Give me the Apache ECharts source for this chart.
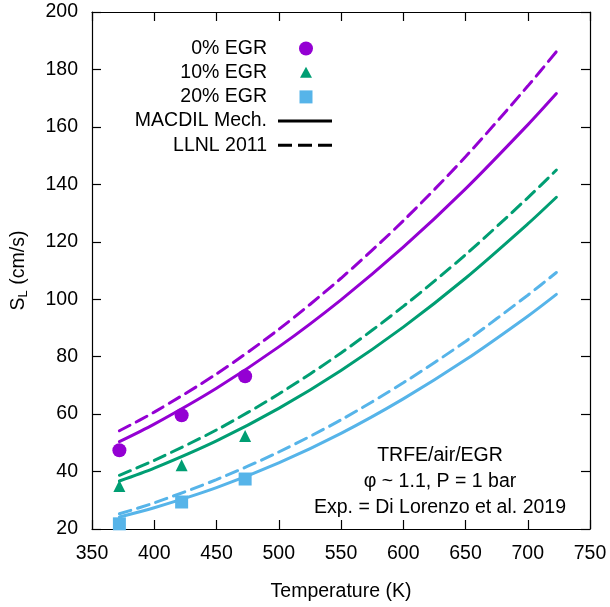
<!DOCTYPE html>
<html>
<head>
<meta charset="utf-8">
<script src="https://cdn.jsdelivr.net/npm/echarts@6/dist/echarts.min.js"></script>
<style>
  html, body { margin: 0; padding: 0; background: #fff; }
  #chart { width: 610px; height: 607px; }
</style>
</head>
<body>
<div id="chart"></div>
<script>
// Laminar burning velocity of TRFE/air/EGR mixtures vs. unburnt temperature

// Experimental data (Di Lorenzo et al. 2019)
const expTemps = [372, 422, 473];
const exp0 = [47.4, 59.6, 73.2];
const exp10 = [35.0, 42.2, 52.4];
const exp20 = [21.8, 29.4, 37.4];

// Simulated curves, temperature grid
const simTemps = [372, 400, 450, 500, 550, 600, 650, 700, 723];
// MACDIL mechanism
const macdil0 = [50.4, 56.5, 69.0, 83.4, 99.8, 118.1, 138.4, 160.7, 171.6];
const macdil10 = [36.7, 41.2, 50.7, 62.0, 75.2, 90.3, 107.3, 126.2, 135.5];
const macdil20 = [24.2, 27.4, 34.4, 43.0, 53.3, 65.3, 78.9, 94.1, 101.7];
// LLNL 2011 mechanism
const llnl0 = [54.2, 60.7, 74.0, 89.5, 107.3, 127.3, 149.6, 174.2, 186.2];
const llnl10 = [38.7, 43.9, 54.5, 67.0, 81.3, 97.5, 115.5, 135.3, 145.0];
const llnl20 = [25.3, 29.1, 37.2, 46.8, 58.0, 70.9, 85.3, 101.4, 109.3];

// Axis ticks
const xMin = 350, xMax = 750, xStep = 50;
const yMin = 20, yMax = 200, yStep = 20;

const C0 = '#9400d3', C10 = '#009e73', C20 = '#56b4e9';
const FONT = 'Liberation Sans, Arial, sans-serif';
const FS = 19.5;

const pairs = (xs, ys) => xs.map((x, i) => [x, ys[i]]);

function curve(name, ys, color, dashed) {
  return {
    name: name, type: 'line', data: pairs(simTemps, ys),
    smooth: 0.3, showSymbol: false, symbol: 'none', z: 2,
    lineStyle: { color: color, width: 3, type: dashed ? [12, 7] : 'solid', cap: 'round' }
  };
}
function points(name, ys, color, symbol, size) {
  return {
    name: name, type: 'scatter', data: pairs(expTemps, ys),
    symbol: symbol, symbolSize: size, z: 3,
    itemStyle: { color: color, opacity: 1 }
  };
}

const chart = echarts.init(document.getElementById('chart'), null, { renderer: 'canvas' });

const baseAxisLine = { show: true, lineStyle: { color: '#000', width: 1.2 } };
const baseTick = { show: true, inside: true, length: 9, lineStyle: { color: '#000', width: 1.2 } };

// Legend block: labels right-aligned, keys to the right
const legRows = [
  { text: '0% EGR', kind: 'circle', color: C0 },
  { text: '10% EGR', kind: 'triangle', color: C10 },
  { text: '20% EGR', kind: 'square', color: C20 },
  { text: 'MACDIL Mech.', kind: 'solid', color: '#000' },
  { text: 'LLNL 2011', kind: 'dashed', color: '#000' }
];
const legTextRight = 267, legKeyX = 306, legTop = 48.5, legStep = 24.2;
const graphics = [];
legRows.forEach((r, i) => {
  const y = legTop + i * legStep;
  graphics.push({
    type: 'text', x: legTextRight, y: y,
    style: { text: r.text, font: FS + 'px ' + FONT, fill: '#000', align: 'right', verticalAlign: 'middle' }
  });
  if (r.kind === 'circle') {
    graphics.push({ type: 'circle', shape: { cx: legKeyX, cy: y, r: 7 }, style: { fill: r.color } });
  } else if (r.kind === 'triangle') {
    graphics.push({ type: 'polygon', shape: { points: [[legKeyX, y - 6], [legKeyX - 6, y + 5], [legKeyX + 6, y + 5]] }, style: { fill: r.color } });
  } else if (r.kind === 'square') {
    graphics.push({ type: 'rect', shape: { x: legKeyX - 6.5, y: y - 6.5, width: 13, height: 13 }, style: { fill: r.color } });
  } else {
    graphics.push({
      type: 'line', shape: { x1: 278, y1: y, x2: 332, y2: y },
      style: { stroke: r.color, lineWidth: 3, lineDash: r.kind === 'dashed' ? [14, 6] : null }
    });
  }
});

// Condition notes, centred lines
const notes = ['TRFE/air/EGR', 'φ ~ 1.1, P = 1 bar', 'Exp. = Di Lorenzo et al. 2019'];
notes.forEach((t, i) => {
  graphics.push({
    type: 'text', x: 440, y: 455.5 + i * 26,
    style: { text: t, font: FS + 'px ' + FONT, fill: '#000', align: 'center', verticalAlign: 'middle' }
  });
});

chart.setOption({
  animation: false,
  backgroundColor: '#fff',
  grid: { left: 92, right: 20, top: 12, bottom: 75, containLabel: false },
  xAxis: [
    {
      type: 'value', min: xMin, max: xMax, interval: xStep, position: 'bottom',
      name: 'Temperature (K)', nameLocation: 'middle', nameGap: 53,
      nameTextStyle: { fontFamily: FONT, fontSize: FS, color: '#000' },
      axisLine: baseAxisLine, axisTick: baseTick, splitLine: { show: false },
      axisLabel: { fontFamily: FONT, fontSize: FS, color: '#000', margin: 15 }
    },
    {
      type: 'value', min: xMin, max: xMax, interval: xStep, position: 'top',
      axisLine: baseAxisLine, axisTick: baseTick, splitLine: { show: false },
      axisLabel: { show: false }
    }
  ],
  yAxis: [
    {
      type: 'value', min: yMin, max: yMax, interval: yStep, position: 'left',
      name: '{m|S}{s|L}{m| (cm/s)}', nameLocation: 'middle', nameGap: 62, nameRotate: 90,
      nameTextStyle: {
        fontFamily: FONT, fontSize: FS, color: '#000',
        rich: {
          m: { fontFamily: FONT, fontSize: FS, color: '#000', verticalAlign: 'middle' },
          s: { fontFamily: FONT, fontSize: 13, color: '#000', verticalAlign: 'bottom', padding: [10, 0, 0, 0] }
        }
      },
      axisLine: baseAxisLine, axisTick: baseTick, splitLine: { show: false },
      axisLabel: { fontFamily: FONT, fontSize: FS, color: '#000', margin: 14 }
    },
    {
      type: 'value', min: yMin, max: yMax, interval: yStep, position: 'right',
      axisLine: baseAxisLine, axisTick: baseTick, splitLine: { show: false },
      axisLabel: { show: false }
    }
  ],
  series: [
    curve('MACDIL 0%', macdil0, C0, false),
    curve('LLNL 0%', llnl0, C0, true),
    curve('MACDIL 10%', macdil10, C10, false),
    curve('LLNL 10%', llnl10, C10, true),
    curve('MACDIL 20%', macdil20, C20, false),
    curve('LLNL 20%', llnl20, C20, true),
    points('0% EGR', exp0, C0, 'circle', 14),
    points('10% EGR', exp10, C10, 'triangle', 12),
    points('20% EGR', exp20, C20, 'rect', 13)
  ],
  graphic: graphics
});
</script>
</body>
</html>
